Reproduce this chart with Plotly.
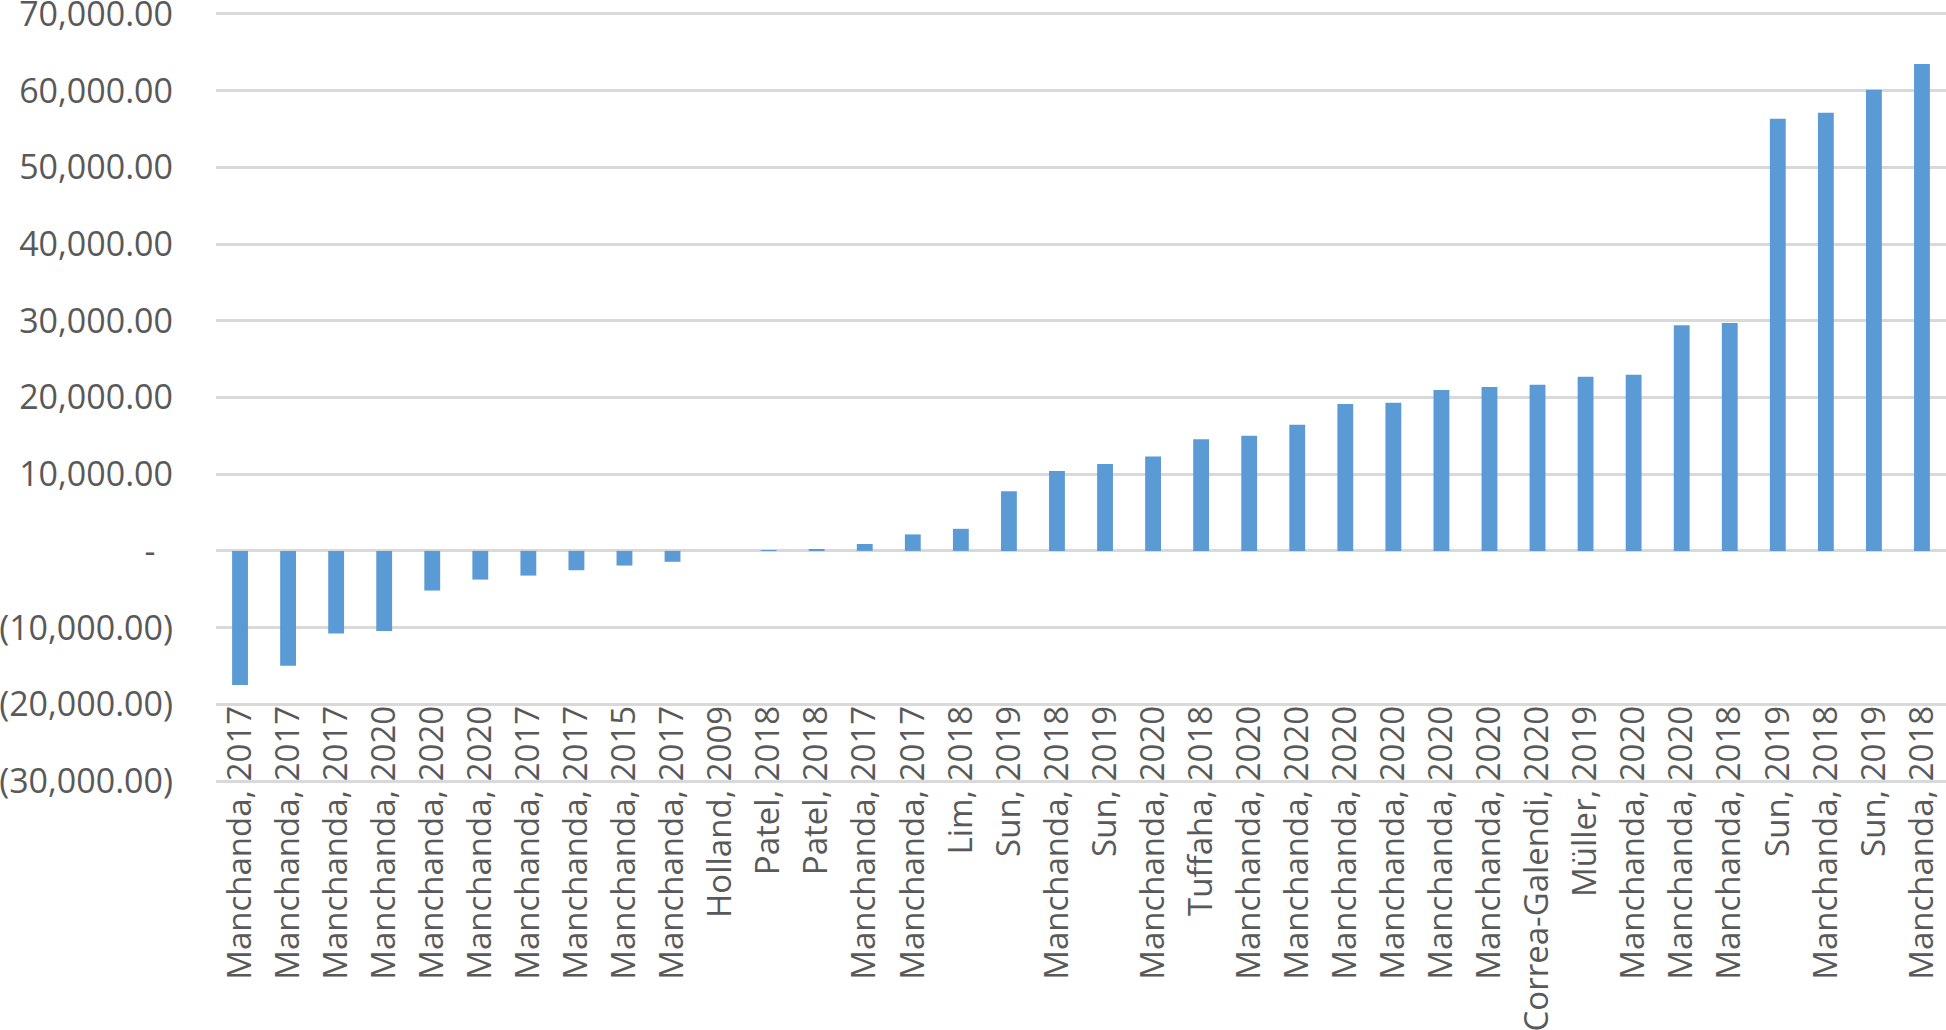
import plotly.graph_objects as go

authors = ["Manchanda", "Manchanda", "Manchanda", "Manchanda", "Manchanda", "Manchanda",
           "Manchanda", "Manchanda", "Manchanda", "Manchanda", "Holland", "Patel",
           "Patel", "Manchanda", "Manchanda", "Lim", "Sun", "Manchanda",
           "Sun", "Manchanda", "Tuffaha", "Manchanda", "Manchanda", "Manchanda",
           "Manchanda", "Manchanda", "Manchanda", "Correa-Galendi", "Müller", "Manchanda",
           "Manchanda", "Manchanda", "Sun", "Manchanda", "Sun", "Manchanda"]
years = [2017, 2017, 2017, 2020, 2020, 2020,
         2017, 2017, 2015, 2017, 2009, 2018,
         2018, 2017, 2017, 2018, 2019, 2018,
         2019, 2020, 2018, 2020, 2020, 2020,
         2020, 2020, 2020, 2020, 2019, 2020,
         2020, 2018, 2019, 2018, 2019, 2018]
values = [-17480, -14960, -10780, -10430, -5170, -3740,
          -3220, -2520, -1910, -1420, 0, 40,
          200, 900, 2150, 2880, 7770, 10420,
          11340, 12300, 14570, 15000, 16450, 19150,
          19300, 20980, 21370, 21660, 22720, 22960,
          29430, 29720, 56340, 57120, 60110, 63480]

y_ticks = [-30000, -20000, -10000, 0, 10000, 20000, 30000, 40000, 50000, 60000, 70000]
y_tick_text = ["(30,000.00)", "(20,000.00)", "(10,000.00)", "-\u00a0\u00a0",
               "10,000.00", "20,000.00", "30,000.00", "40,000.00",
               "50,000.00", "60,000.00", "70,000.00"]

labels = [f"{a}, {y}" for a, y in zip(authors, years)]
idx = list(range(len(labels)))

font = "Open Sans, Liberation Sans, sans-serif"
grey = "#595959"

fig = go.Figure(go.Bar(x=idx, y=values, marker_color="#5B9BD5",
                       marker_line_width=0))

# pad the value range a little so the outer gridlines are not clipped
fig.update_layout(
    width=1946, height=1030,
    margin=dict(l=216, r=0, t=12, b=247),
    plot_bgcolor="white", paper_bgcolor="white",
    bargap=0.67, showlegend=False,
    font=dict(family=font, color=grey),
)
# category labels sit over the bottom of the plot, as in the original
fig.update_xaxes(range=[-0.5, len(labels) - 0.5], tickvals=idx, ticktext=labels,
                 tickangle=-90, tickfont=dict(size=33, family=font, color=grey),
                 showgrid=False, showline=False, zeroline=False, ticks="",
                 anchor="free", position=0.110, automargin=False,
                 ticklabeloverflow="allow")
fig.update_yaxes(range=[-30260, 70260], tickvals=y_ticks, ticktext=y_tick_text,
                 tickfont=dict(size=34, family=font, color=grey),
                 gridcolor="#D9D9D9", gridwidth=3,
                 zeroline=True, zerolinecolor="#D9D9D9", zerolinewidth=3,
                 showline=False, ticks="", ticklabelstandoff=42,
                 automargin=False, ticklabeloverflow="allow")

fig.write_html("out.html", config={"displayModeBar": False},
               post_script="document.body.style.margin='0';")
